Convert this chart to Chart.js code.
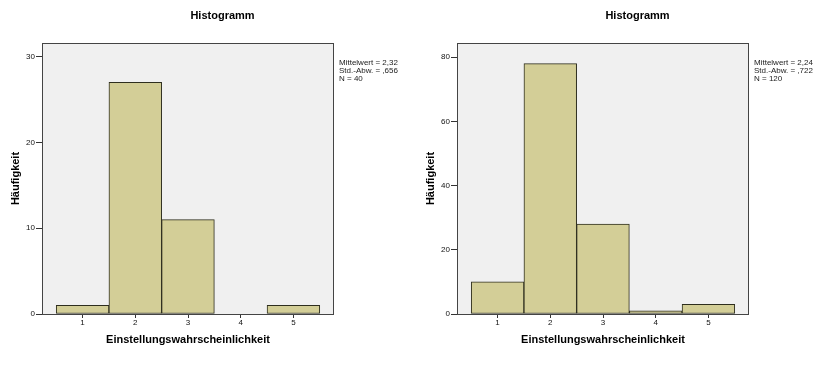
<!DOCTYPE html>
<html>
<head>
<meta charset="utf-8">
<script src="https://cdn.jsdelivr.net/npm/chart.js@4/dist/chart.umd.min.js"></script>
<style>
  body { margin: 0; background: #fff; }
  #wrap { display: flex; width: 829px; height: 367px; }
  canvas { display: block; }
</style>
</head>
<body>
<div id="wrap">
  <canvas id="histLeft" width="415" height="367"></canvas>
  <canvas id="histRight" width="414" height="367"></canvas>
</div>
<script>
// categories (x values of the histogram bins)
const bins = [1, 2, 3, 4, 5];
const xTicks = [1, 2, 3, 4, 5];

// left histogram (N = 40)
const countsLeft = [1, 27, 11, 0, 1];
const yTicksLeft = [0, 10, 20, 30];
const yMaxLeft = 31.6;
const statsLeft = ["Mittelwert = 2,32", "Std.-Abw. = ,656", "N = 40"];

// right histogram (N = 120)
const countsRight = [10, 78, 28, 1, 3];
const yTicksRight = [0, 20, 40, 60, 80];
const yMaxRight = 84.4;
const statsRight = ["Mittelwert = 2,24", "Std.-Abw. = ,722", "N = 120"];

const FONT = "'Liberation Sans', Arial, sans-serif";

// plot background, frame, title and stats box
const spssLook = {
  id: "spssLook",
  beforeDraw(chart) {
    const { ctx, chartArea: a } = chart;
    ctx.save();
    ctx.fillStyle = "#f0f0f0";
    ctx.fillRect(a.left, a.top, a.right - a.left, a.bottom - a.top);
    ctx.restore();
  },
  afterDatasetsDraw(chart) {
    const { ctx, chartArea: a } = chart;
    ctx.save();
    ctx.strokeStyle = "#444";
    ctx.lineWidth = 1;
    ctx.strokeRect(a.left + 0.5, a.top + 0.5, a.right - a.left - 1, a.bottom - a.top);
    ctx.restore();
  },
  afterDraw(chart, args, opts) {
    const { ctx, chartArea: a } = chart;
    ctx.save();
    ctx.fillStyle = "#000";
    ctx.font = "bold 11px " + FONT;
    ctx.textAlign = "center";
    ctx.textBaseline = "middle";
    ctx.fillText("Histogramm", 222.5, 16);
    ctx.fillStyle = "#222";
    ctx.font = "8px " + FONT;
    ctx.textAlign = "left";
    opts.lines.forEach((t, i) => ctx.fillText(t, a.right + 5, 62.5 + i * 8));
    ctx.restore();
  }
};

function makeHist(id, counts, yTicks, yMax, stats, rightPad) {
  new Chart(document.getElementById(id), {
    type: "bar",
    data: {
      datasets: [{
        data: bins.map((b, i) => ({ x: b, y: counts[i] })),
        backgroundColor: "#d3ce97",
        borderColor: "#2e2e1e",
        borderWidth: 1,
        borderSkipped: false,
        barPercentage: 1,
        categoryPercentage: 1
      }]
    },
    options: {
      responsive: false,
      animation: false,
      layout: { padding: { top: 43, right: rightPad, left: 0, bottom: 0 } },
      plugins: {
        legend: { display: false },
        tooltip: { enabled: false },
        spssLook: { lines: stats }
      },
      scales: {
        x: {
          type: "linear",
          offset: false,
          min: 0.23,
          max: 5.77,
          afterBuildTicks: s => { s.ticks = xTicks.map(v => ({ value: v })); },
          afterFit: s => { s.height = 53; },
          grid: { offset: false, drawOnChartArea: false, tickLength: 4, color: "#333" },
          border: { display: false },
          ticks: { padding: 0, color: "#111", font: { family: FONT, size: 8 } },
          title: {
            display: true,
            text: "Einstellungswahrscheinlichkeit",
            color: "#000",
            font: { family: FONT, size: 11, weight: "bold" },
            padding: { top: 0, bottom: 20 }
          }
        },
        y: {
          min: 0,
          max: yMax,
          afterBuildTicks: s => { s.ticks = yTicks.map(v => ({ value: v })); },
          afterFit: s => { s.width = 42; },
          grid: { drawOnChartArea: false, tickLength: 6, color: "#333" },
          border: { display: false },
          ticks: { padding: 1, color: "#111", font: { family: FONT, size: 8 } },
          title: {
            display: true,
            text: "Häufigkeit",
            color: "#000",
            font: { family: FONT, size: 11, weight: "bold" },
            padding: { top: 9, bottom: 0 }
          }
        }
      }
    },
    plugins: [spssLook]
  });
}

makeHist("histLeft", countsLeft, yTicksLeft, yMaxLeft, statsLeft, 81);
makeHist("histRight", countsRight, yTicksRight, yMaxRight, statsRight, 80);
</script>
</body>
</html>
